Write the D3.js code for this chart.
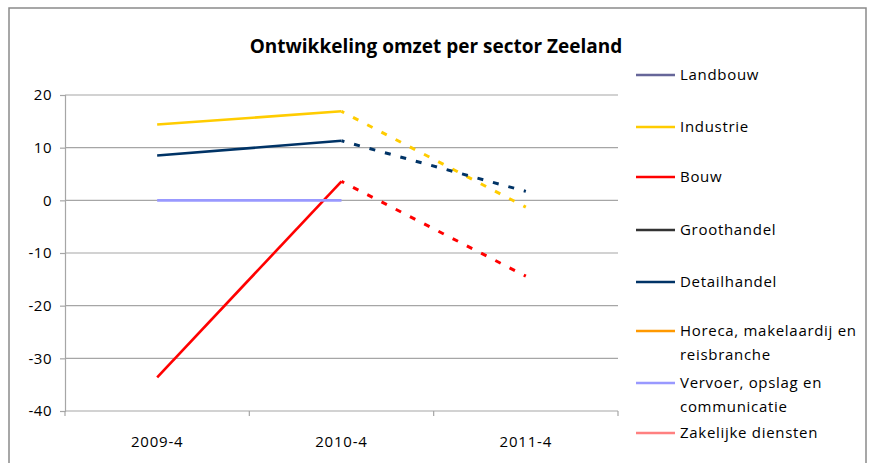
<!DOCTYPE html>
<html>
<head>
<meta charset="utf-8">
<script src="https://cdn.jsdelivr.net/npm/d3@7/dist/d3.min.js"></script>
<style>
  html, body { margin: 0; padding: 0; background: #fff; }
  svg { display: block; }
  text { font-family: "Open Sans", "Liberation Sans", sans-serif; fill: #000; }
</style>
</head>
<body>
<svg id="chart" width="869" height="463"></svg>
<script>
// ---- data ----
const categories = ["2009-4", "2010-4", "2011-4"];
const seriesNames = [
  "Landbouw", "Industrie", "Bouw", "Groothandel", "Detailhandel",
  "Horeca, makelaardij en reisbranche", "Vervoer, opslag en communicatie", "Zakelijke diensten"
];
const legendLines = [
  ["Landbouw"], ["Industrie"], ["Bouw"], ["Groothandel"], ["Detailhandel"],
  ["Horeca, makelaardij en", "reisbranche"], ["Vervoer, opslag en", "communicatie"], ["Zakelijke diensten"]
];
const seriesColors = ["#666699", "#ffcc00", "#ff0000", "#333333", "#003366", "#ff9900", "#9999ff", "#ff8080"];
const landbouw      = [null, null, null];
const industrie     = [14.4, 16.9, -1.3];
const bouw          = [-33.6, 3.6, -14.4];
const groothandel   = [null, null, null];
const detailhandel  = [8.5, 11.3, 1.7];
const horeca        = [null, null, null];
const vervoer       = [0, 0, null];
const zakelijke     = [null, null, null];
const seriesValues = [landbouw, industrie, bouw, groothandel, detailhandel, horeca, vervoer, zakelijke];
const yTicks = [20, 10, 0, -10, -20, -30, -40];
const forecastStart = 1; // index from which the line is dashed (prognose)

// ---- layout ----
const plot = { left: 65, right: 618, top: 95, bottom: 411 };
const svg = d3.select("#chart");

// outer chart border
svg.append("rect").attr("x", 9).attr("y", 8).attr("width", 857).attr("height", 470)
  .attr("fill", "#fff").attr("stroke", "#8a8a8a").attr("stroke-width", 1.5);

const x = d3.scalePoint().domain(categories).range([plot.left, plot.right]).padding(0.5);
const y = d3.scaleLinear().domain([-40, 20]).range([plot.bottom, plot.top]);

// gridlines
svg.append("g").selectAll("line").data(yTicks.filter(t => t !== -40)).join("line")
  .attr("x1", plot.left).attr("x2", plot.right)
  .attr("y1", d => y(d)).attr("y2", d => y(d))
  .attr("stroke", "#a6a6a6").attr("stroke-width", 1.2);

// y axis
const yAxis = svg.append("g").attr("transform", `translate(${plot.left},0)`)
  .call(d3.axisLeft(y).tickValues(yTicks).tickSize(5).tickPadding(8).tickFormat(d => String(d)));
yAxis.select(".domain").attr("stroke", "#a6a6a6").attr("stroke-width", 1.2);
yAxis.selectAll(".tick line").attr("stroke", "#a6a6a6").attr("stroke-width", 1.2);
yAxis.selectAll(".tick text").style("font-size", "15px").attr("fill", "#000")
  .style("font-family", "'Open Sans', sans-serif").style("letter-spacing", "0.5px");

// x axis (category boundaries as ticks)
const xb = d3.scaleLinear().domain([0, categories.length]).range([plot.left, plot.right]);
const xAxisG = svg.append("g").attr("transform", `translate(0,${plot.bottom})`);
xAxisG.append("line").attr("x1", plot.left).attr("x2", plot.right).attr("y1", 0).attr("y2", 0)
  .attr("stroke", "#a6a6a6").attr("stroke-width", 1.2);
xAxisG.selectAll("line.tk").data(d3.range(categories.length + 1)).join("line").attr("class", "tk")
  .attr("x1", d => xb(d)).attr("x2", d => xb(d)).attr("y1", 0).attr("y2", 5)
  .attr("stroke", "#a6a6a6").attr("stroke-width", 1.2);
xAxisG.selectAll("text").data(categories).join("text")
  .attr("x", d => x(d)).attr("y", 36).attr("text-anchor", "middle")
  .style("font-size", "15px").style("letter-spacing", "0.8px").text(d => d);

// series lines
const line = d3.line().defined(d => d.v !== null).x(d => x(d.c)).y(d => y(d.v));
const linesG = svg.append("g");
seriesNames.forEach((name, i) => {
  const pts = categories.map((c, j) => ({ c, v: seriesValues[i][j] }));
  const solid = pts.slice(0, forecastStart + 1);
  const dashed = pts.slice(forecastStart);
  if (dashed.every(p => p.v !== null)) {
    linesG.append("path").attr("d", line(dashed)).attr("fill", "none")
      .attr("stroke", seriesColors[i]).attr("stroke-width", 3)
      .attr("stroke-dasharray", "6,10").attr("stroke-dashoffset", 3);
  }
  if (solid.filter(p => p.v !== null).length > 1) {
    linesG.append("path").attr("d", line(solid)).attr("fill", "none")
      .attr("stroke", seriesColors[i]).attr("stroke-width", 2.6)
      .attr("stroke-linejoin", "round");
  }
});

// title
svg.append("text").attr("x", 436).attr("y", 53).attr("text-anchor", "middle")
  .style("font-size", "19px").style("font-weight", "bold")
  .text("Ontwikkeling omzet per sector Zeeland");

// legend
const legendY = [75, 127, 177, 230, 282, 331, 383, 433];
const lg = svg.append("g");
legendLines.forEach((lines, i) => {
  const g = lg.append("g").attr("transform", `translate(0,${legendY[i]})`);
  g.append("line").attr("x1", 636).attr("x2", 675).attr("y1", 0).attr("y2", 0)
    .attr("stroke", seriesColors[i]).attr("stroke-width", 2.6);
  lines.forEach((t, k) => {
    g.append("text").attr("x", 680).attr("y", k * 24).attr("dy", "0.35em")
      .style("font-size", "15px").style("letter-spacing", "0.7px").text(t);
  });
});
</script>
</body>
</html>
